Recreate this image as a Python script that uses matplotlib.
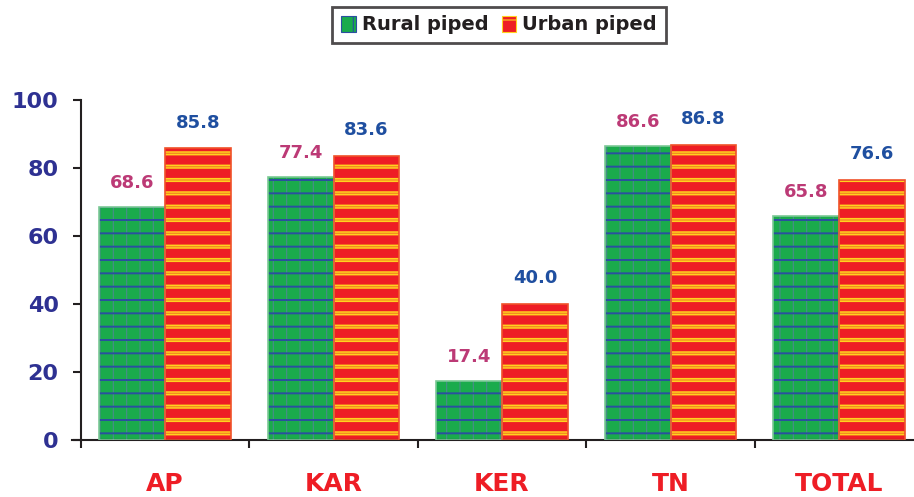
import numpy as np
import matplotlib.pyplot as plt
from matplotlib.patches import Patch

states = ["AP", "KAR", "KER", "TN", "TOTAL"]
rural = [68.6, 77.4, 17.4, 86.6, 65.8]
urban = [85.8, 83.6, 40.0, 86.8, 76.6]

# hatch spacing is tied to dpi, so draw at 80 dpi and scale point sizes
DPI = 80
K = 100 / DPI


def pt(v):
    return v * K


plt.rcParams['font.family'] = 'DejaVu Sans'
plt.rcParams['font.weight'] = 'bold'

green = '#1aab4c'
red = '#ee1d25'
blue_line = '#2b4fa0'
yellow = '#ffd21f'
orange = '#f58a1f'

fig = plt.figure(figsize=(914 / DPI, 497 / DPI), dpi=DPI)
ax = fig.add_axes([0.0884, 0.1147, 0.9116, 0.6841])

x = np.arange(len(states))
w = 0.39


def hatched_bars(xs, vals, face, layers, edge):
    ax.bar(xs, vals, w, color=face, linewidth=0, zorder=2)
    for hatch, col, lw in layers:
        with plt.rc_context({'hatch.linewidth': pt(lw)}):
            bars = ax.bar(xs, vals, w, color='none', edgecolor=col,
                          hatch=hatch, linewidth=0, zorder=3)
        for p in bars:
            if hasattr(p, 'set_hatch_linewidth'):
                p.set_hatch_linewidth(pt(lw))
    ax.bar(xs, vals, w, color='none', edgecolor=edge, linewidth=pt(1.2),
           zorder=4)


# rural: green with blue grid (dotted verticals)
hatched_bars(x - w / 2, rural, green,
             [('|', '#4a8c8c', 0.8), ('-', blue_line, 1.4)],
             '#7cc996')
# urban: red with yellow/orange double stripes
hatched_bars(x + w / 2, urban, red,
             [('-', yellow, 3.0), ('-', orange, 0.9)],
             '#f0522a')

for xi, v in zip(x - w / 2, rural):
    ax.text(xi, v + 7, f"{v:.1f}", ha='center', va='center',
            color='#bc3a76', fontsize=pt(13), fontweight='bold')
for xi, v in zip(x + w / 2, urban):
    ax.text(xi, v + 7.5, f"{v:.1f}", ha='center', va='center',
            color='#1f4fa0', fontsize=pt(13), fontweight='bold')

ax.set_ylim(0, 100)
ax.set_xlim(-0.5, 4.445)
ax.set_yticks(range(0, 101, 20))
ax.tick_params(axis='y', length=pt(6), width=pt(1.5), pad=pt(10),
               labelsize=pt(16), labelcolor='#2e3192', color='#231f20')
ax.set_xticks(np.arange(-0.5, 4.0, 1.0))
ax.set_xticklabels([])
ax.tick_params(axis='x', which='major', length=pt(6), width=pt(1.5),
               color='#231f20')
ax.set_xticks(x, minor=True)
ax.set_xticklabels(states, minor=True)
ax.tick_params(axis='x', which='minor', length=0, pad=pt(23),
               labelsize=pt(18), labelcolor='#ee1d25')
for lab in ax.get_yticklabels() + ax.get_xticklabels(minor=True):
    lab.set_fontweight('bold')

for s in ['top', 'right']:
    ax.spines[s].set_visible(False)
for s in ['left', 'bottom']:
    ax.spines[s].set_linewidth(pt(1.5))
    ax.spines[s].set_color('#231f20')
ax.spines['bottom'].set_bounds(-0.55, 4.445)

handles = [Patch(facecolor=green, edgecolor=blue_line, hatch='|'),
           Patch(facecolor=red, edgecolor=yellow, hatch='-')]
leg = fig.legend(handles, ["Rural piped", "Urban piped"], loc='center',
                 bbox_to_anchor=(0.546, 0.95), ncol=2, frameon=True,
                 fancybox=False, edgecolor='#231f20', fontsize=pt(14),
                 handlelength=0.75, handleheight=0.9, handletextpad=0.3,
                 columnspacing=0.7, borderpad=0.45)
leg.get_frame().set_linewidth(pt(2))
for t in leg.get_texts():
    t.set_fontweight('bold')
    t.set_color('#231f20')

fig.savefig('out.png', dpi=DPI)
